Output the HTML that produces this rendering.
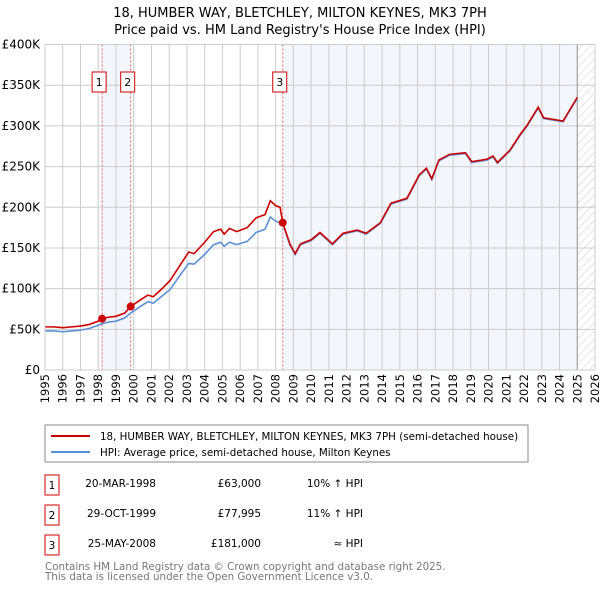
<!DOCTYPE html>
<html><head><meta charset="utf-8"><style>
body{margin:0;background:#fff;font-family:"Liberation Sans","DejaVu Sans",sans-serif;}
</style></head><body>
<svg width="600" height="590" xmlns="http://www.w3.org/2000/svg" font-family="DejaVu Sans, Liberation Sans, sans-serif">
<defs><pattern id="hatch" width="6" height="6" patternUnits="userSpaceOnUse" patternTransform="rotate(45)"><line x1="0" y1="0" x2="0" y2="6" stroke="#ccc" stroke-width="1"/></pattern></defs>
<text x="300" y="17" text-anchor="middle" font-size="13">18, HUMBER WAY, BLETCHLEY, MILTON KEYNES, MK3 7PH</text>
<text x="300" y="34" text-anchor="middle" font-size="13">Price paid vs. HM Land Registry's House Price Index (HPI)</text>
<g id="plot"></g>
<rect x="45" y="425" width="483" height="37" fill="#fff" stroke="#888"/>
<g><line x1="51" y1="436" x2="90" y2="436" stroke="#cc0000" stroke-width="2"/><text x="100" y="440" font-size="10.3">18, HUMBER WAY, BLETCHLEY, MILTON KEYNES, MK3 7PH (semi-detached house)</text></g>
<g><line x1="51" y1="452" x2="90" y2="452" stroke="#5b8fd4" stroke-width="2"/><text x="100" y="456" font-size="10.3">HPI: Average price, semi-detached house, Milton Keynes</text></g>
<g font-size="10.5">
<rect x="45" y="475" width="14" height="20" fill="#fff" stroke="#cc0000"/><text x="52" y="489" text-anchor="middle">1</text>
<text x="156" y="487" text-anchor="end">20-MAR-1998</text><text x="261" y="487" text-anchor="end">£63,000</text><text x="363" y="487" text-anchor="end">10% ↑ HPI</text>
<rect x="45" y="505" width="14" height="20" fill="#fff" stroke="#cc0000"/><text x="52" y="519" text-anchor="middle">2</text>
<text x="156" y="517" text-anchor="end">29-OCT-1999</text><text x="261" y="517" text-anchor="end">£77,995</text><text x="363" y="517" text-anchor="end">11% ↑ HPI</text>
<rect x="45" y="535" width="14" height="20" fill="#fff" stroke="#cc0000"/><text x="52" y="549" text-anchor="middle">3</text>
<text x="156" y="547" text-anchor="end">25-MAY-2008</text><text x="261" y="547" text-anchor="end">£181,000</text><text x="363" y="547" text-anchor="end">≈ HPI</text>
</g>
<text x="45" y="570" font-size="10.3" fill="#777">Contains HM Land Registry data © Crown copyright and database right 2025.</text>
<text x="45" y="580" font-size="10.3" fill="#777">This data is licensed under the Open Government Licence v3.0.</text>
</svg>
<script>
const years=[1995.0,1995.5,1996.0,1996.5,1997.0,1997.5,1998.0,1998.22,1998.6,1999.0,1999.5,1999.83,2000.3,2000.8,2001.1,2001.6,2002.05,2002.5,2003.1,2003.4,2004.0,2004.5,2004.9,2005.1,2005.4,2005.8,2006.4,2006.9,2007.4,2007.7,2008.0,2008.25,2008.4,2008.8,2009.1,2009.4,2010.0,2010.5,2011.2,2011.8,2012.6,2013.1,2013.9,2014.5,2015.4,2016.1,2016.5,2016.8,2017.2,2017.8,2018.7,2019.05,2019.9,2020.25,2020.5,2021.2,2021.8,2022.15,2022.8,2023.1,2024.2,2025.0];
const propertyValues=[53,53,52,53,54,56,60,63,65,66,70,78,85,92,90,100,110,125,145,143,157,170,173,167,174,170,175,187,191,208,202,200,181,155,143,155,160,169,155,168,172,168,181,205,211,240,248,235,258,265,267,256,259,263,255,270,290,300,323,310,306,335];
const hpiValues=[48,48,47,48,49,51,55,57,59,60,64,70,77,84,82,91,99,113,131,130,142,154,157,152,157,154,158,169,173,188,183,181,180,154,142,154,159,168,154,167,171,167,180,204,210,239,247,234,257,264,266,255,258,262,254,269,289,299,322,309,305,334];
const saleYears=[1998.22,1999.83,2008.4];
const salePrices=[63,77.995,181];
const saleLabels=["1","2","3"];
const yTicks=[0,50,100,150,200,250,300,350,400];
const yTickLabels=["£0","£50K","£100K","£150K","£200K","£250K","£300K","£350K","£400K"];
const xTicks=[1995,1996,1997,1998,1999,2000,2001,2002,2003,2004,2005,2006,2007,2008,2009,2010,2011,2012,2013,2014,2015,2016,2017,2018,2019,2020,2021,2022,2023,2024,2025,2026];
const dataEnd=2025.0;

const X0=45,X1=595,Y0=370,Y1=44.5;
const xs=y=>X0+(y-1995)/(2026-1995)*(X1-X0);
const ys=v=>Y0-v/400*(Y0-Y1);
const NS="http://www.w3.org/2000/svg";
const plot=document.getElementById('plot');
function mk(tag,attrs){const e=document.createElementNS(NS,tag);for(const k in attrs)e.setAttribute(k,attrs[k]);plot.appendChild(e);return e;}

let r=mk('rect',{x:X0,y:Y1,width:X1-X0,height:Y0-Y1,fill:'#fff'});


r=mk('rect',{x:xs(saleYears[0]),y:Y1,width:xs(saleYears[1])-xs(saleYears[0]),height:Y0-Y1,fill:'#f3f6fd'});


r=mk('rect',{x:xs(saleYears[2]),y:Y1,width:xs(dataEnd)-xs(saleYears[2]),height:Y0-Y1,fill:'#f3f6fd'});


r=mk('rect',{x:xs(dataEnd),y:Y1,width:X1-xs(dataEnd),height:Y0-Y1,fill:'url(#hatch)'});



xTicks.forEach(t=>{
 const l=mk('line',{x1:xs(t),x2:xs(t),y1:Y1,y2:Y0,stroke:'#ccc','stroke-width':1});
 
 
 const tx=mk('text',{x:0,y:0,'font-size':11.5,'text-anchor':'end',transform:`translate(${xs(t)+4},${Y0+4}) rotate(-90)`});
 tx.textContent=t;
 
 
});
yTicks.forEach((t,i)=>{
 const l=mk('line',{x1:X0,x2:X1,y1:ys(t),y2:ys(t),stroke:'#ccc','stroke-width':1});
 
 
 const tx=mk('text',{x:X0-5,y:ys(t)+4,'font-size':12,'text-anchor':'end'});
 tx.textContent=yTickLabels[i];
 
 
});
r=mk('line',{x1:xs(dataEnd),x2:xs(dataEnd),y1:Y1,y2:Y0,stroke:'#999','stroke-width':1});



saleYears.forEach((sy,i)=>{
 const l=mk('line',{x1:xs(sy),x2:xs(sy),y1:Y1,y2:Y0,stroke:'#e06060','stroke-width':1,'stroke-dasharray':'2,2'});
 
 
 const b=mk('rect',{x:xs(sy)-10,y:72,width:14,height:20,fill:'#fff',stroke:'#cc0000'});
 
 
 const t=mk('text',{x:xs(sy)-3,y:86,'font-size':11,'text-anchor':'middle'});
 t.textContent=saleLabels[i];
 
 
});

let p=mk('polyline',{points:years.map((y,i)=>xs(y)+','+ys(hpiValues[i])).join(' '),fill:'none',stroke:'#5b8fd4','stroke-width':1.6});


p=mk('polyline',{points:years.map((y,i)=>xs(y)+','+ys(propertyValues[i])).join(' '),fill:'none',stroke:'#cc0000','stroke-width':1.6});


saleYears.forEach((sy,i)=>{
 const c=mk('circle',{cx:xs(sy),cy:ys(salePrices[i]),r:4,fill:'#cc0000'});
 
 
});
r=mk('rect',{x:X0,y:Y1,width:X1-X0,height:Y0-Y1,fill:'none',stroke:'#ccc'});


</script>
</body></html>
